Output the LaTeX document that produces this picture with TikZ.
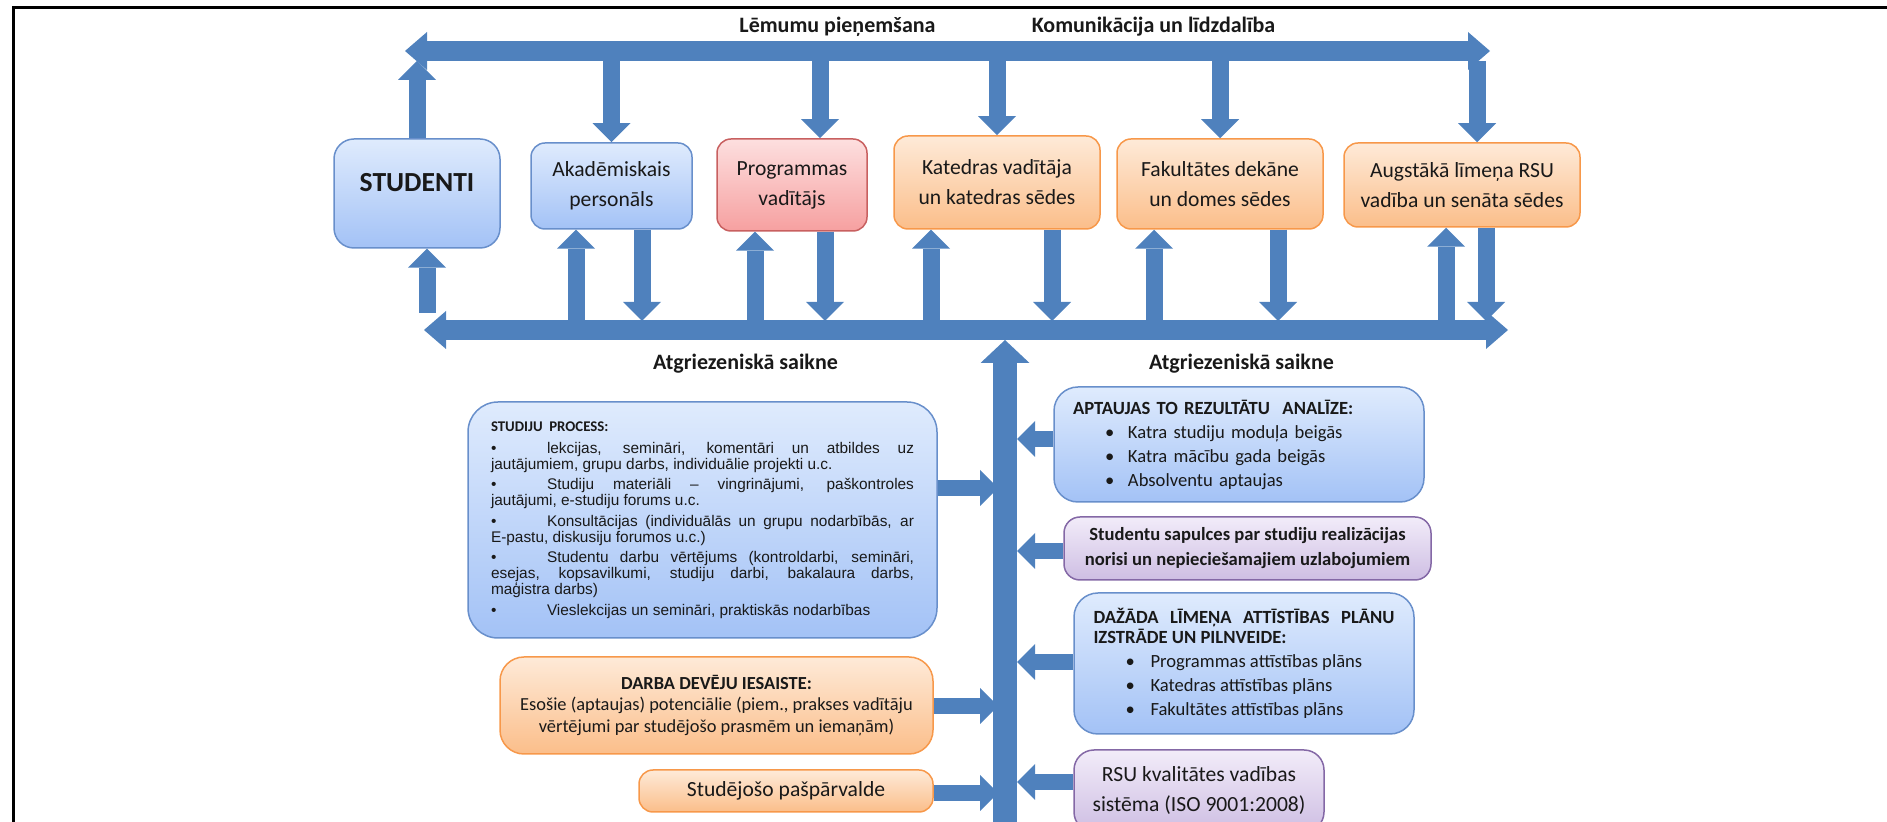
\documentclass[tikz,border=0pt]{standalone}
\usepackage{fontspec}
\setmainfont{Carlito}
\newfontfamily\arialfont{Liberation Sans}
\usetikzlibrary{arrows.meta}
\sloppy

\definecolor{arrowblue}{RGB}{79,129,189}
\definecolor{blueTop}{RGB}{223,235,253}
\definecolor{blueBot}{RGB}{163,194,246}
\definecolor{blueLine}{RGB}{104,143,203}
\definecolor{redTop}{RGB}{253,223,223}
\definecolor{redBot}{RGB}{246,160,160}
\definecolor{redLine}{RGB}{200,96,96}
\definecolor{orangeTop}{RGB}{254,234,216}
\definecolor{orangeBot}{RGB}{251,190,138}
\definecolor{orangeLine}{RGB}{247,152,74}
\definecolor{purpleTop}{RGB}{242,236,249}
\definecolor{purpleBot}{RGB}{206,190,227}
\definecolor{purpleLine}{RGB}{132,104,166}
\definecolor{inktext}{RGB}{25,25,25}

\newcommand{\procitem}{\par\vspace{2.2pt}\noindent\makebox[28pt][l]{\textbullet}}
\newcommand{\dotitem}[2]{\hspace*{#1}\makebox[#2][l]{\textbullet}}

\tikzset{every picture/.style={line width=0.75pt}}
\tikzset{
  blkarrow/.style={draw=arrowblue, line width=8.5pt, -{Triangle[width=19pt,length=9.5pt,line width=0pt]}},
  sidearrow/.style={draw=arrowblue, line width=8pt, -{Triangle[width=18pt,length=9pt,line width=0pt]}},
  barline/.style={draw=arrowblue, line width=10pt, {Triangle[width=19pt,length=11pt,line width=0pt]}-{Triangle[width=19pt,length=11pt,line width=0pt]}},
  trunkline/.style={draw=arrowblue, line width=12pt, -{Triangle[width=24.5pt,length=11.5pt,line width=0pt]}},
  bluebox/.style={draw=blueLine, top color=blueTop, bottom color=blueBot, rounded corners=7pt, align=center, inner sep=0pt, text=inktext},
  redbox/.style={draw=redLine, top color=redTop, bottom color=redBot, rounded corners=7pt, align=center, inner sep=0pt, text=inktext},
  orangebox/.style={draw=orangeLine, top color=orangeTop, bottom color=orangeBot, rounded corners=7pt, align=center, inner sep=0pt, text=inktext},
  purplebox/.style={draw=purpleLine, top color=purpleTop, bottom color=purpleBot, rounded corners=7pt, align=center, inner sep=0pt, text=inktext},
  toptext/.style={font=\fontsize{10.8}{15}\selectfont},
  barlabel/.style={font=\bfseries\fontsize{11}{13}\selectfont, anchor=base, inner sep=0.75pt, text=inktext},
}

\begin{document}
\begin{tikzpicture}[x=0.5pt,y=0.5pt,yscale=-1,xscale=1]
\useasboundingbox (0,0) rectangle (1887,822);

%Frame
\draw[line width=1.5pt] (1895,8) -- (13,8) -- (13,830);

%Coordinates of the bars
\coordinate (topL) at (405,51);
\coordinate (topR) at (1490,51);
\coordinate (topE) at (0,61);
\coordinate (botL) at (424,330);
\coordinate (botR) at (1508,330);
\coordinate (botE) at (0,321);
\coordinate (stuE) at (427,313);
\coordinate (trunkB) at (1005,830);
\coordinate (trunkT) at (1005,340);
\coordinate (trunkL) at (998,0);
\coordinate (trunkR) at (1017,0);

%Top row boxes
\node[bluebox, rounded corners=10pt, minimum width=83pt, minimum height=54.5pt, font=\bfseries\fontsize{13.8}{16}\selectfont, text height=9pt, text depth=10.6pt] (studenti) at (417,193.5) {STUDENTI};
\node[bluebox, minimum width=80.5pt, minimum height=43pt, toptext] (akad) at (611.5,186) {Akadēmiskais\\personāls};
\node[redbox, minimum width=75pt, minimum height=46pt, toptext] (progv) at (792,185) {Programmas\\vadītājs};
\node[orangebox, minimum width=103pt, minimum height=46.5pt, toptext] (kated) at (997,182.5) {Katedras vadītāja\\un katedras sēdes};
\node[orangebox, minimum width=103pt, minimum height=45pt, toptext] (fakul) at (1220,184) {Fakultātes dekāne\\un domes sēdes};
\node[orangebox, minimum width=118pt, minimum height=42pt, toptext] (augst) at (1462,185) {Augstākā līmeņa RSU\\vadība un senāta sēdes};

%Left column boxes
\node[bluebox, rounded corners=15pt, minimum width=234.5pt, minimum height=118pt, text width=211.5pt, align=justify, font=\arialfont\fontsize{7.7}{8}\selectfont] (studproc) at (702.5,520) {%
{\normalfont\bfseries\fontsize{7.4}{8}\selectfont STUDIJU\ \ PROCESS:}\par\vspace{0.8pt}
\procitem lekcijas, semināri, komentāri un atbildes uz\linebreak jautājumiem, grupu darbs, individuālie projekti u.c.
\procitem Studiju materiāli – vingrinājumi, paškontroles\linebreak jautājumi, e-studiju forums u.c.
\procitem Konsultācijas (individuālās un grupu nodarbībās, ar\linebreak E-pastu, diskusiju forumos u.c.)
\procitem Studentu darbu vērtējums (kontroldarbi, semināri,\linebreak esejas, kopsavilkumi, studiju darbi, bakalaura darbs,\linebreak maģistra darbs)
\procitem Vieslekcijas un semināri, praktiskās nodarbības};
\node[orangebox, rounded corners=12pt, minimum width=216.5pt, minimum height=48.5pt, font=\fontsize{9.2}{10.8}\selectfont] (darba) at (716.5,705.5) {\textbf{DARBA DEVĒJU IESAISTE:}\\Esošie (aptaujas) potenciālie (piem., prakses vadītāju\\vērtējumi par studējošo prasmēm un iemaņām)};
\node[orangebox, minimum width=147pt, minimum height=21pt, toptext] (studpas) at (786,791) {Studējošo pašpārvalde};

%Right column boxes
\node[bluebox, rounded corners=12pt, minimum width=185pt, minimum height=57.5pt, text width=166pt, align=left, font=\fontsize{9.3}{12}\selectfont] (aptauj) at (1239,444.5) {\textbf{APTAUJAS TO REZULTĀTU\ \ ANALĪZE:}\\\dotitem{16pt}{11.5pt}Katra studiju moduļa beigās\\\dotitem{16pt}{11.5pt}Katra mācību gada beigās\\\dotitem{16pt}{11.5pt}Absolventu aptaujas};
\node[purplebox, rounded corners=8pt, minimum width=183.5pt, minimum height=31.5pt, font=\bfseries\fontsize{9.3}{12.5}\selectfont] (sapulc) at (1247.5,548.5) {Studentu sapulces par studiju realizācijas\\norisi un nepieciešamajiem uzlabojumiem};
\node[bluebox, rounded corners=12pt, minimum width=170pt, minimum height=70.5pt, text width=150.5pt, align=justify, font=\fontsize{9.3}{12}\selectfont] (dazada) at (1244,663.5) {%
{\bfseries\fontsize{9.3}{10}\selectfont DAŽĀDA LĪMEŅA ATTĪSTĪBAS PLĀNU\linebreak IZSTRĀDE UN PILNVEIDE:\par}
\dotitem{16pt}{12.5pt}Programmas attīstības plāns\par
\dotitem{16pt}{12.5pt}Katedras attīstības plāns\par
\dotitem{16pt}{12.5pt}Fakultātes attīstības plāns};
\node[purplebox, rounded corners=10pt, minimum width=125pt, minimum height=41pt, toptext] (rsukv) at (1199,791) {RSU kvalitātes vadības\\sistēma (ISO 9001:2008)};

%Bars
\draw[barline] (topL) -- (topR);
\draw[barline] (botL) -- (botR);
\draw[trunkline] (trunkB) -- (trunkT);

%Arrows to and from the upper bar
\draw[blkarrow] (studenti.north) -- (studenti.north |- topE);
\draw[blkarrow] (akad.north |- topE) -- (akad.north);
\draw[blkarrow] (topE -| 820,0) -- (progv.north -| 820,0);
\draw[blkarrow] (kated.north |- topE) -- (kated.north);
\draw[blkarrow] (fakul.north |- topE) -- (fakul.north);
\draw[blkarrow] (topE -| 1477,0) -- (augst.north -| 1477,0);

%Arrows to and from the lower bar
\draw[blkarrow] (stuE) -- (studenti.south -| stuE);
\draw[blkarrow] (botE -| 576,0) -- (akad.south -| 576,0);
\draw[blkarrow] (akad.south -| 642,0) -- (botE -| 642,0);
\draw[blkarrow] (botE -| 755,0) -- (progv.south -| 755,0);
\draw[blkarrow] (progv.south -| 825,0) -- (botE -| 825,0);
\draw[blkarrow] (botE -| 931,0) -- (kated.south -| 931,0);
\draw[blkarrow] (kated.south -| 1052,0) -- (botE -| 1052,0);
\draw[blkarrow] (botE -| 1154,0) -- (fakul.south -| 1154,0);
\draw[blkarrow] (fakul.south -| 1278,0) -- (botE -| 1278,0);
\draw[blkarrow] (botE -| 1446,0) -- (augst.south -| 1446,0);
\draw[blkarrow] (augst.south -| 1486,0) -- (botE -| 1486,0);

%Arrows into the trunk
\draw[sidearrow] (studproc.east |- 0,488) -- (trunkL |- 0,488);
\draw[sidearrow] (darba.east |- 0,706) -- (trunkL |- 0,706);
\draw[sidearrow] (studpas.east |- 0,793) -- (trunkL |- 0,793);
\draw[sidearrow] (aptauj.west |- 0,439) -- (trunkR |- 0,439);
\draw[sidearrow] (sapulc.west |- 0,551) -- (trunkR |- 0,551);
\draw[sidearrow] (dazada.west |- 0,662) -- (trunkR |- 0,662);
\draw[sidearrow] (rsukv.west |- 0,782) -- (trunkR |- 0,782);

% Text Node
\node[barlabel] (lemumi) at (837.5,33) {Lēmumu pieņemšana};
% Text Node
\node[barlabel] (komun) at (1153.5,33) {Komunikācija un līdzdalība};
% Text Node
\node[barlabel] (atgrL) at (745.5,370) {Atgriezeniskā saikne};
% Text Node
\node[barlabel] (atgrR) at (1241.5,370) {Atgriezeniskā saikne};

\end{tikzpicture}
\end{document}
